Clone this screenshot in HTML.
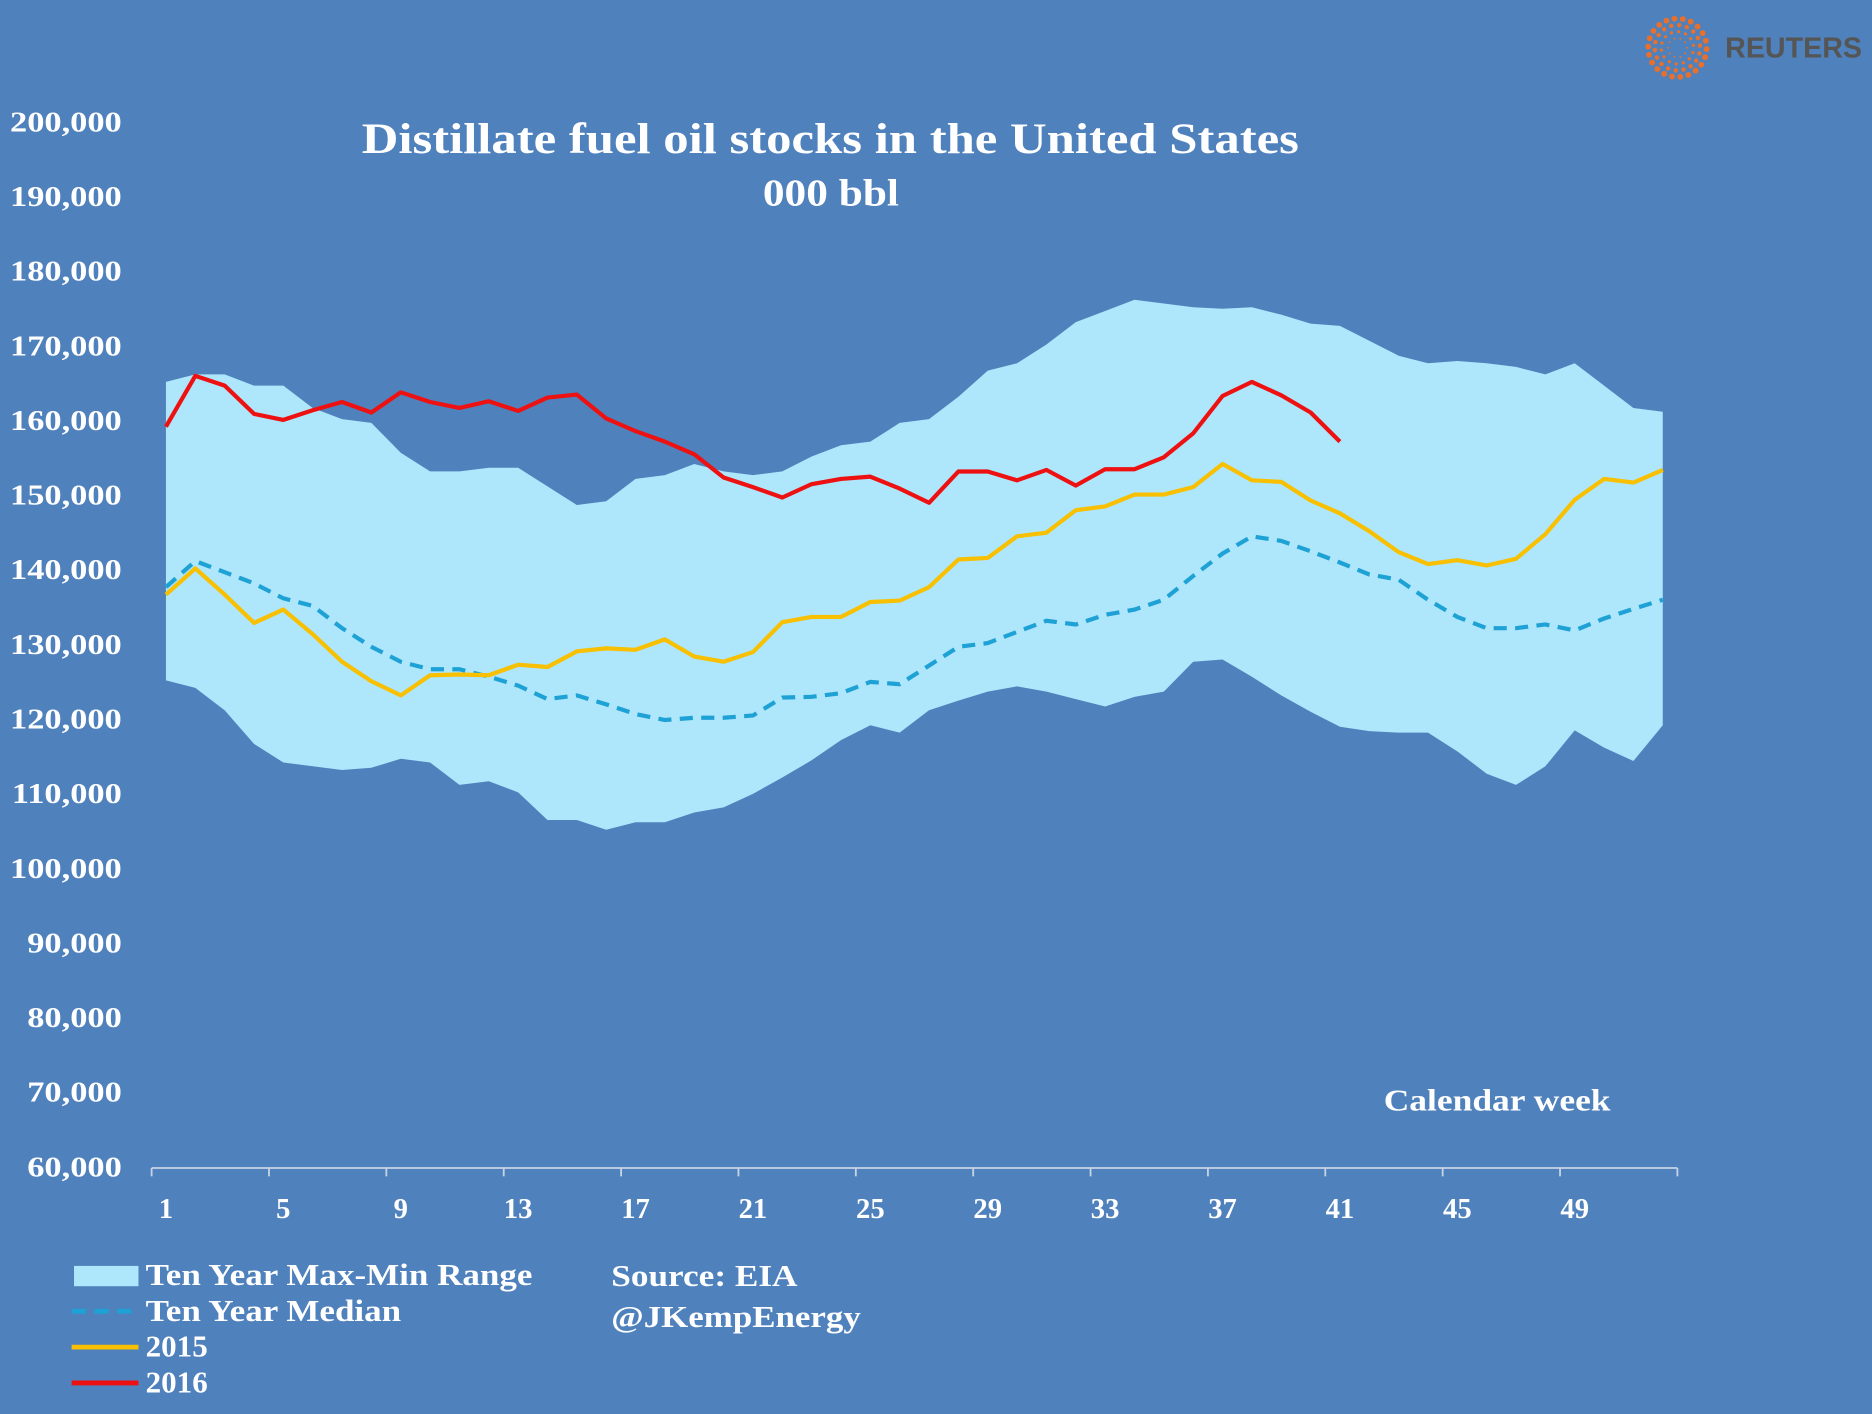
<!DOCTYPE html>
<html><head><meta charset="utf-8"><style>
html,body{margin:0;padding:0;background:#4f81bd;}
svg{display:block;}
text{font-family:"Liberation Serif",serif;font-weight:bold;fill:#fff;}
</style></head><body>
<svg id="chart" width="1872" height="1414" viewBox="0 0 1568 1184" preserveAspectRatio="none" xmlns="http://www.w3.org/2000/svg">
<rect width="1568" height="1184" fill="#4f81bd"/>
<g id="logo"></g>
<text x="1445" y="48" style="font-family:'Liberation Sans',sans-serif;font-weight:bold;fill:#555;font-size:24px">REUTERS</text>
<text x="303" y="128" textLength="785" lengthAdjust="spacingAndGlyphs" font-size="36">Distillate fuel oil stocks in the United States</text>
<text x="639" y="172" textLength="114" lengthAdjust="spacingAndGlyphs" font-size="32">000 bbl</text>
<g id="plot"></g>
<text x="1159" y="930" textLength="190" lengthAdjust="spacingAndGlyphs" font-size="26">Calendar week</text>
<g>
<rect x="62" y="1060" width="54" height="17" fill="#aee6fb"/>
<text x="122" y="1076" textLength="324" lengthAdjust="spacingAndGlyphs" font-size="26">Ten Year Max-Min Range</text>
<line x1="60" y1="1098" x2="116" y2="1098" stroke="#1ea2d6" stroke-width="4" stroke-dasharray="12,7"/>
<text x="122" y="1106" textLength="214" lengthAdjust="spacingAndGlyphs" font-size="26">Ten Year Median</text>
<line x1="60" y1="1128" x2="116" y2="1128" stroke="#f8c000" stroke-width="4"/>
<text x="122" y="1136" font-size="26">2015</text>
<line x1="60" y1="1158" x2="116" y2="1158" stroke="#ee1111" stroke-width="4"/>
<text x="122" y="1166" font-size="26">2016</text>
</g>
<text x="512" y="1077" textLength="156" lengthAdjust="spacingAndGlyphs" font-size="26">Source: EIA</text>
<text x="512" y="1111" textLength="209" lengthAdjust="spacingAndGlyphs" font-size="26">@JKempEnergy</text>
</svg>
<script>
const yTicks=[60000,70000,80000,90000,100000,110000,120000,130000,140000,150000,160000,170000,180000,190000,200000];
const xTicks=[1,5,9,13,17,21,25,29,33,37,41,45,49];
const rangeMax=[165,166,166,164.5,164.5,161.5,160,159.5,155.5,153,153,153.5,153.5,151,148.5,149,152,152.5,154,153,152.5,153,155,156.5,157,159.5,160,163,166.5,167.5,170,173,174.5,176,175.5,175,174.8,175,174,172.8,172.5,170.5,168.5,167.5,167.8,167.5,167,166,167.5,164.5,161.5,161];
const rangeMin=[125,124,121,116.5,114,113.5,113,113.3,114.5,114,111,111.5,110,106.3,106.3,105,106,106,107.3,108,109.8,112,114.3,117,119,118,121,122.3,123.5,124.2,123.5,122.5,121.5,122.8,123.5,127.5,127.8,125.5,123,120.8,118.8,118.2,118,118,115.5,112.5,111,113.5,118.3,116,114.2,119];
const median=[137.5,141,139.5,138,136,135,132,129.5,127.5,126.5,126.5,125.5,124.3,122.5,123,121.8,120.5,119.7,120,120,120.3,122.7,122.8,123.3,124.8,124.5,127,129.5,130,131.5,133,132.5,133.8,134.5,135.8,139,142,144.3,143.7,142.3,140.8,139.2,138.5,135.8,133.5,132,132,132.5,131.7,133.3,134.6,135.8];
const y2015=[136.5,140,136.5,132.7,134.5,131.2,127.5,124.9,123,125.7,125.8,125.7,127.1,126.8,128.9,129.3,129.1,130.5,128.2,127.5,128.8,132.8,133.5,133.5,135.5,135.7,137.5,141.2,141.4,144.3,144.8,147.8,148.3,149.9,149.9,150.9,154,151.8,151.6,149.1,147.4,145,142.2,140.6,141.1,140.4,141.3,144.6,149.2,152,151.5,153.2];
const y2016=[159,165.8,164.5,160.7,159.9,161.2,162.3,160.9,163.6,162.3,161.5,162.4,161.1,162.9,163.3,160.1,158.4,157,155.3,152.2,150.9,149.5,151.3,152,152.3,150.7,148.8,153,153,151.8,153.2,151.1,153.3,153.3,154.9,158.1,163.1,165,163.2,160.9,157];

const NS="http://www.w3.org/2000/svg";
const plot=document.getElementById('plot');
function X(w){return 139+(w-1)*(1180/48);}
function Y(v){return 976-(v-60)*(875/140);}
function mk(tag,attrs,parent){const e=document.createElementNS(NS,tag);for(const k in attrs)e.setAttribute(k,attrs[k]);(parent||plot).appendChild(e);return e;}
function pts(arr){return arr.map((v,i)=>X(i+1).toFixed(1)+','+Y(v).toFixed(1)).join(' ');}

let poly=rangeMax.map((v,i)=>X(i+1)+','+Y(v));
for(let i=rangeMin.length-1;i>=0;i--)poly.push(X(i+1)+','+Y(rangeMin[i]));
const band=mk('polygon',{points:poly.join(' '),fill:'#aee6fb'});



const med=mk('polyline',{points:pts(median),fill:'none',stroke:'#1ea2d6','stroke-width':3.5,'stroke-dasharray':'11,7'});


const l15=mk('polyline',{points:pts(y2015),fill:'none',stroke:'#f8c000','stroke-width':3.5,'stroke-linejoin':'round'});


const l16=mk('polyline',{points:pts(y2016),fill:'none',stroke:'#ee1111','stroke-width':3.5,'stroke-linejoin':'round'});



const ax=mk('line',{x1:127,y1:978,x2:1405,y2:978,stroke:'#c8d4e6','stroke-width':1.5});


for(let w=0;w<=52;w+=4){const xx=127+w*(1278/52);const t=mk('line',{x1:xx,y1:978,x2:xx,y2:985,stroke:'#c8d4e6','stroke-width':1.5});

}
yTicks.forEach(v=>{const t=mk('text',{x:102,y:Y(v/1000)+9,'text-anchor':'end','font-size':24});t.textContent=v.toLocaleString('en-US');


const L=t.getComputedTextLength();if(L>0){t.setAttribute('textLength',(L*1.2).toFixed(1));t.setAttribute('lengthAdjust','spacingAndGlyphs');}});
xTicks.forEach(w=>{const t=mk('text',{x:X(w),y:1020,'text-anchor':'middle','font-size':24});t.textContent=w;

});

const logo=document.getElementById('logo');
for(let r=0;r<4;r++){const rad=8+r*5.5,n=10+r*4,sz=0.8+r*0.55;for(let k=0;k<n;k++){const a=k/n*2*Math.PI+r*0.3;mk('circle',{cx:1405+rad*Math.cos(a),cy:40+rad*Math.sin(a),r:sz,fill:'#e8702a'},logo);}}
</script>
</body></html>
